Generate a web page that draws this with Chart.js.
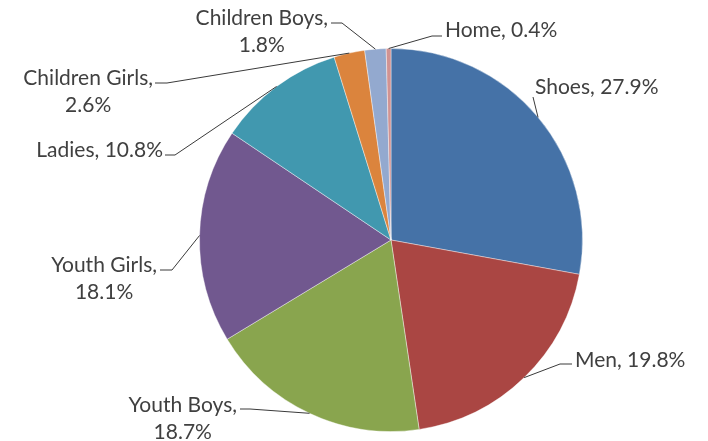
<!DOCTYPE html>
<html>
<head>
<meta charset="utf-8">
<script src="https://cdn.jsdelivr.net/npm/chart.js@4/dist/chart.umd.min.js"></script>
<style>
  html, body { margin: 0; padding: 0; background: #ffffff; }
  #wrap { width: 708px; height: 441px; position: relative; }
</style>
</head>
<body>
<div id="wrap"><canvas id="pie" width="708" height="441"></canvas></div>
<script>
// Sales share by department (%)
const categories = ['Shoes', 'Men', 'Youth Boys', 'Youth Girls', 'Ladies', 'Children Girls', 'Children Boys', 'Home'];
const shares = [27.9, 19.8, 18.7, 18.1, 10.8, 2.6, 1.8, 0.4];
const sliceColors = ['#4572A7', '#AA4643', '#89A54E', '#71588F', '#4198AF', '#DB843D', '#93A9CF', '#D19392'];

// Where each data label sits and how its leader line bends.
// side: which edge of the text block the leader attaches to.
const labelLayout = [
  { lines: 1, side: 'left',  x: 535, y: 87,  path: [[533, 97]] },
  { lines: 1, side: 'left',  x: 575, y: 360, path: [[560, 364], [572, 364]] },
  { lines: 2, side: 'right', x: 237, y: 405, path: [[250, 409], [240, 409]] },
  { lines: 2, side: 'right', x: 157, y: 265, path: [[172, 270], [160, 270]] },
  { lines: 1, side: 'right', x: 163, y: 150, path: [[175, 155], [165, 155]] },
  { lines: 2, side: 'right', x: 153, y: 78,  path: [[167, 83], [155, 83]] },
  { lines: 2, side: 'right', x: 328, y: 18,  path: [[342, 23], [331, 23]] },
  { lines: 1, side: 'left',  x: 445, y: 30,  path: [[432, 36], [442, 36]] }
];

const FONT = '21px Lato, "Open Sans", sans-serif';
const TEXT_COLOR = '#404040';
const LINE_H = 27;

const leaderLabels = {
  id: 'leaderLabels',
  afterDatasetsDraw(chart) {
    const ctx = chart.ctx;
    const meta = chart.getDatasetMeta(0);
    ctx.save();
    ctx.font = FONT;
    ctx.fillStyle = TEXT_COLOR;
    ctx.textBaseline = 'middle';
    meta.data.forEach((arc, i) => {
      const lay = labelLayout[i];
      const p = arc.getProps(['x', 'y', 'startAngle', 'endAngle', 'outerRadius'], true);
      const mid = (p.startAngle + p.endAngle) / 2;
      const sx = p.x + Math.cos(mid) * p.outerRadius;
      const sy = p.y + Math.sin(mid) * p.outerRadius;

      // leader line
      ctx.beginPath();
      ctx.strokeStyle = '#3a3a3a';
      ctx.lineWidth = 1;
      ctx.moveTo(sx, sy);
      lay.path.forEach(pt => ctx.lineTo(pt[0], pt[1]));
      ctx.stroke();

      // label text
      const valueText = shares[i].toFixed(1) + '%';
      const textLines = lay.lines === 1
        ? [categories[i] + ', ' + valueText]
        : [categories[i] + ',', valueText];
      const widths = textLines.map(t => ctx.measureText(t).width);
      const blockW = Math.max(...widths);
      const left = lay.side === 'left' ? lay.x : lay.x - blockW;
      const cx = left + blockW / 2;
      ctx.textAlign = 'center';
      textLines.forEach((t, k) => {
        ctx.fillText(t, cx, lay.y + k * LINE_H);
      });
    });
    ctx.restore();
  }
};

new Chart(document.getElementById('pie'), {
  type: 'pie',
  data: {
    labels: categories,
    datasets: [{
      data: shares,
      backgroundColor: sliceColors,
      borderColor: 'rgba(255,255,255,0.4)',
      borderWidth: 1,
      hoverOffset: 0
    }]
  },
  options: {
    responsive: false,
    animation: false,
    events: [],
    layout: { padding: { left: 199, right: 125, top: 48, bottom: 9 } },
    plugins: {
      legend: { display: false },
      tooltip: { enabled: false }
    }
  },
  plugins: [leaderLabels]
});
</script>
</body>
</html>
